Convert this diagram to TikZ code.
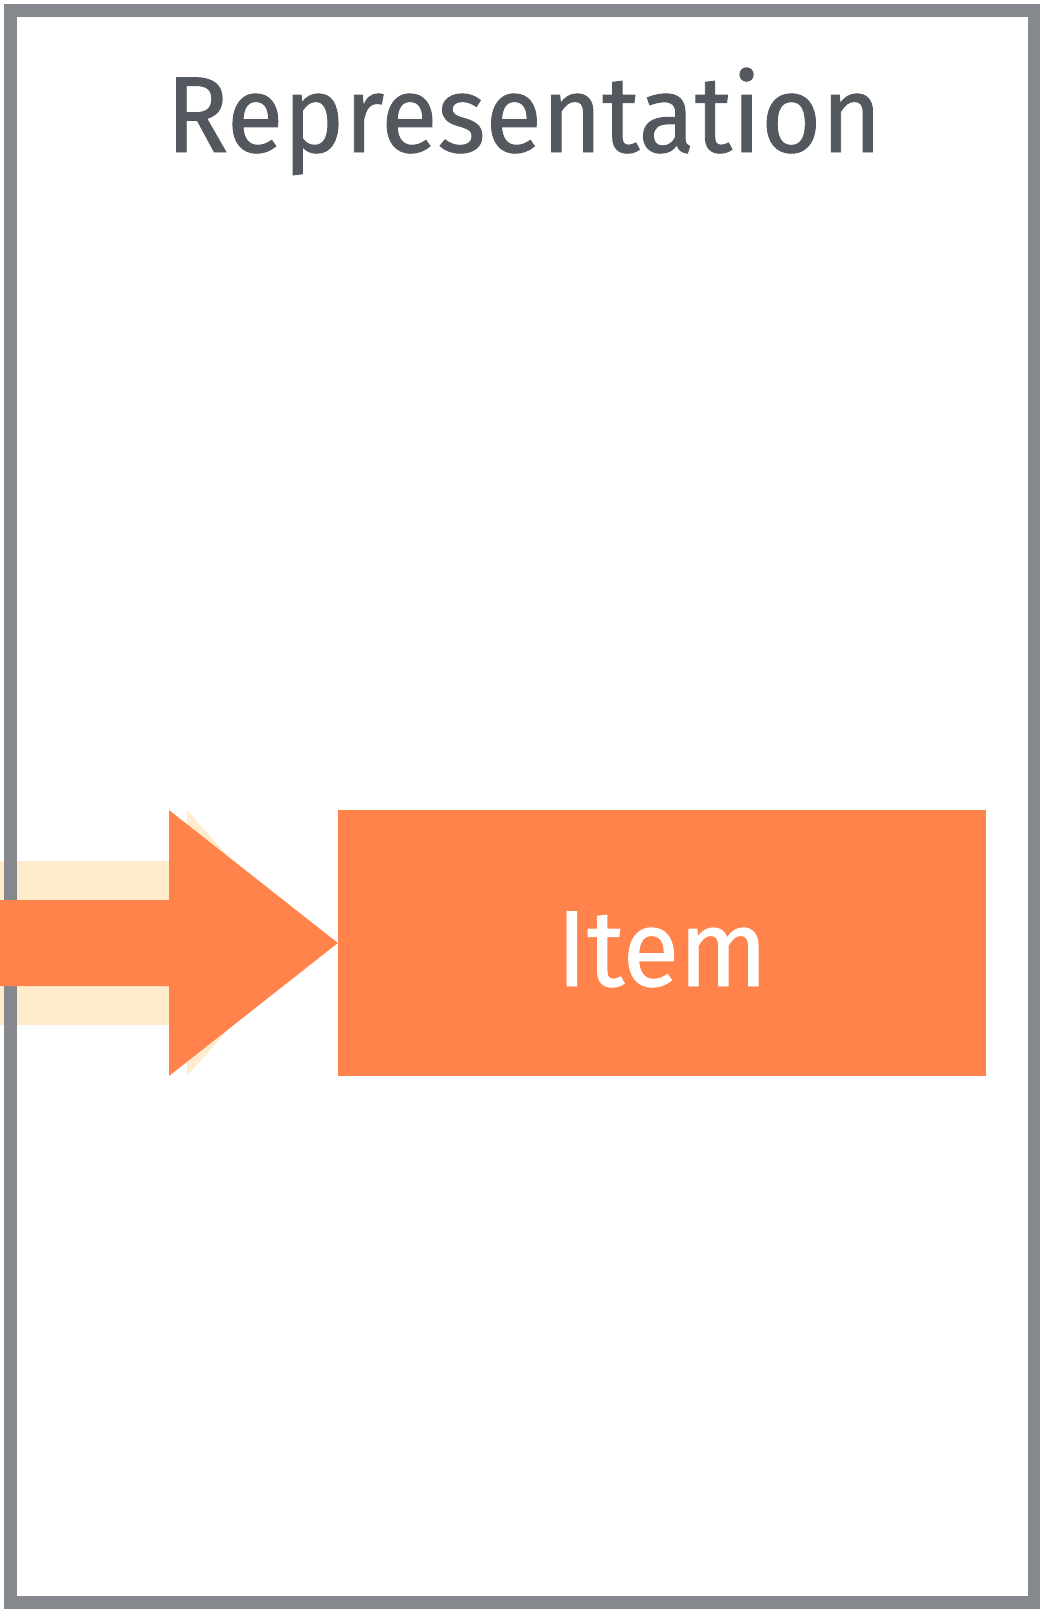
\documentclass[tikz,border=0pt]{standalone}
\usepackage{fontspec}
\setmainfont{Fira Sans}[FakeStretch=0.955, FakeBold=0.8]
\usetikzlibrary{positioning,calc}
\definecolor{framegray}{HTML}{85888C}
\definecolor{titlegray}{HTML}{53575E}
\definecolor{itemorange}{HTML}{FF834B}
\definecolor{glowcream}{HTML}{FFECCD}

\begin{document}
\begin{tikzpicture}[x=1pt, y=-1pt,
  bigtext/.style={font=\fontsize{108}{120}\selectfont},
  itembox/.style={fill=itemorange, text=white, bigtext, inner sep=0pt,
    minimum width=648pt, minimum height=266pt, text height=86pt, text depth=0pt}]
\useasboundingbox (0,0) rectangle (1040,1609);
\node[itembox] (item) at (662,943) {Item};
\node[bigtext, text=titlegray, anchor=base] (title) at (524,152) {Representation};
\coordinate (src) at (0,943);
% pale glow behind the arrow
\fill[glowcream] (src |- 0,861) -- (187,861) -- (187,810) -- ($(item.west)+(-33,0)$)
  -- (187,1076) -- (187,1025) -- (src |- 0,1025) -- cycle;
\draw[framegray, line width=13pt] (10,10) rectangle (1034,1602);
% arrow into the item
\fill[itemorange] (src |- 0,900) -- (169,900) -- (169,810) -- (item.west)
  -- (169,1076) -- (169,986) -- (src |- 0,986) -- cycle;
\node[itembox] at (item) {Item};
\end{tikzpicture}
\end{document}
